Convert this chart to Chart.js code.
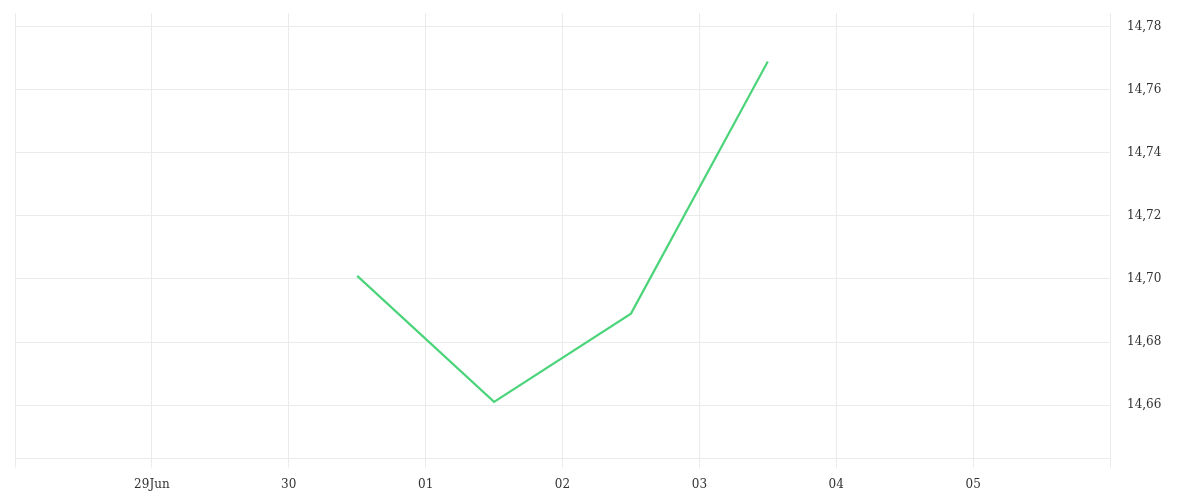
<!DOCTYPE html>
<html>
<head>
<meta charset="utf-8">
<script src="https://cdn.jsdelivr.net/npm/chart.js@4"></script>
<style>
html,body{margin:0;padding:0;background:#fff;}
#wrap{width:1200px;height:500px;position:relative;}
</style>
</head>
<body>
<div id="wrap"><canvas id="c" width="1200" height="500"></canvas></div>
<script>
// Day offsets from 29 Jun (0 = 29 Jun 00:00)
const tickDays = [-1, 0, 1, 2, 3, 4, 5, 6, 7];
const tickLabels = ['', '29Jun', '30', '01', '02', '03', '04', '05', ''];
const pointDays = [1.5, 2.5, 3.5, 4.5];
const values = [14.701, 14.661, 14.689, 14.769];
const yMin = 14.643, yMax = 14.7844, yStep = 0.02;

const FONT = "DejaVu Serif";
const data = pointDays.map((d, i) => ({x: d, y: values[i]}));

new Chart(document.getElementById('c'), {
  type: 'line',
  data: {
    datasets: [{
      data: data,
      borderColor: '#4cd47a',
      borderWidth: 2.2,
      pointRadius: 0,
      tension: 0,
      fill: false
    }]
  },
  options: {
    responsive: false,
    animation: false,
    devicePixelRatio: 1,
    layout: {padding: {left: 15, top: 13, right: 0, bottom: 0}},
    plugins: {legend: {display: false}, tooltip: {enabled: false}},
    scales: {
      x: {
        type: 'linear',
        min: -1, max: 7,
        afterBuildTicks: (s) => { s.ticks = tickDays.map(v => ({value: v})); },
        ticks: {
          autoSkip: false,
          maxRotation: 0,
          padding: 10,
          color: '#333',
          font: {family: FONT, size: 12},
          callback: (v) => { const i = tickDays.indexOf(v); return i >= 0 ? tickLabels[i] : ''; }
        },
        grid: {color: '#ebebeb', lineWidth: 1, tickLength: 9, drawTicks: true},
        border: {color: '#ebebeb'},
        afterFit: (s) => { s.paddingLeft = 0; s.paddingRight = 0; s.height -= 2; }
      },
      y: {
        position: 'right',
        min: yMin, max: yMax,
        afterBuildTicks: (s) => {
          const t = [];
          for (let v = 14.66; v <= yMax + 1e-9; v += yStep) t.push({value: Math.round(v * 100) / 100});
          s.ticks = t;
        },
        ticks: {
          padding: 17,
          color: '#333',
          font: {family: FONT, size: 12},
          callback: (v) => v.toFixed(2).replace('.', ',')
        },
        grid: {color: '#ebebeb', lineWidth: 1, drawTicks: false},
        border: {color: '#ebebeb'},
        afterFit: (s) => { s.width = 90; s.paddingTop = 0; s.paddingBottom = 0; }
      }
    }
  }
});
</script>
</body>
</html>
